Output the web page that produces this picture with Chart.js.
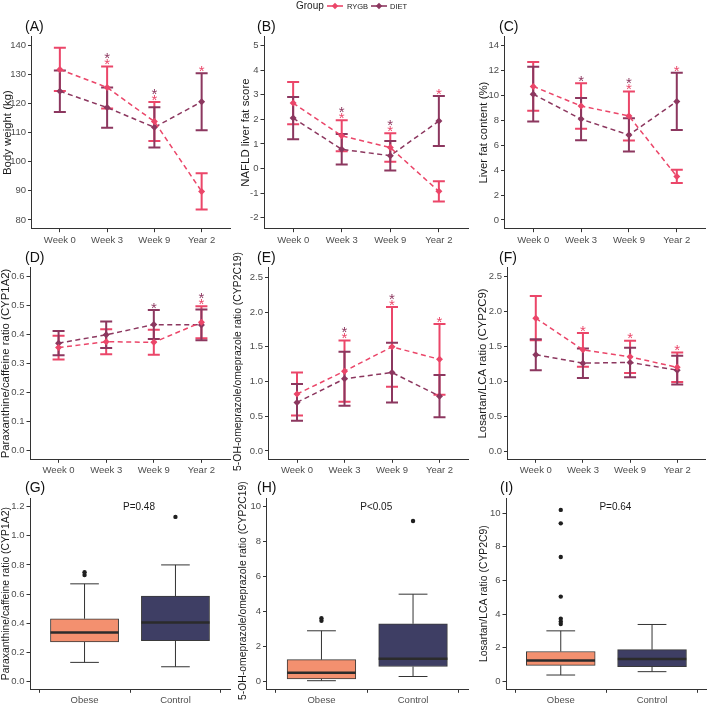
<!DOCTYPE html>
<html><head><meta charset="utf-8">
<script src="https://cdn.jsdelivr.net/npm/chart.js@4.4.1/dist/chart.umd.min.js"></script>
<style>
body{margin:0;background:#fff;}
#wrap{position:relative;width:709px;height:703px;overflow:hidden;background:#fff;font-family:'Liberation Sans',Arial,sans-serif;}
canvas{position:absolute;}
.tag{position:absolute;font-size:14px;line-height:14px;color:#111;white-space:nowrap;}
.lg{position:absolute;white-space:nowrap;color:#222;}
</style></head><body><div id="wrap"></div>
<script>
// ---------------- DATA ----------------
const timepoints = ['Week 0', 'Week 3', 'Week 9', 'Year 2'];
const boxGroups = ['Obese', 'Control'];
const seriesNames = ['RYGB', 'DIET'];

// (A) Body weight (kg)
const weightRYGB = [131.7, 125.5, 113.8, 89.8];
const weightRYGBsd = [7.4, 7.2, 6.7, 6.2];
const weightDIET = [124.2, 118.6, 111.8, 120.6];
const weightDIETsd = [7.1, 6.9, 6.9, 9.8];
const weightStarsRYGB = [0, 1, 1, 1];
const weightStarsDIET = [0, 1, 1, 0];
const weightTicks = [80, 90, 100, 110, 120, 130, 140];

// (B) NAFLD liver fat score
const naflRYGB = [2.66, 1.33, 0.85, -0.93];
const naflRYGBsd = [0.86, 0.63, 0.58, 0.41];
const naflDIET = [2.05, 0.78, 0.52, 1.93];
const naflDIETsd = [0.86, 0.62, 0.60, 1.02];
const naflStarsRYGB = [0, 1, 1, 1];
const naflStarsDIET = [0, 1, 1, 0];
const naflTicks = [-2, -1, 0, 1, 2, 3, 4, 5];

// (C) Liver fat content (%)
const lfcRYGB = [10.7, 9.13, 8.33, 3.49];
const lfcRYGBsd = [1.95, 1.83, 1.97, 0.53];
const lfcDIET = [10.08, 8.08, 6.81, 9.5];
const lfcDIETsd = [2.2, 1.7, 1.33, 2.29];
const lfcStarsRYGB = [0, 0, 1, 1];
const lfcStarsDIET = [0, 1, 1, 0];
const lfcTicks = [0, 2, 4, 6, 8, 10, 12, 14];

// (D) Paraxanthine/caffeine ratio (CYP1A2)
const cyp1a2RYGB = [0.355, 0.375, 0.373, 0.442];
const cyp1a2RYGBsd = [0.041, 0.043, 0.043, 0.055];
const cyp1a2DIET = [0.370, 0.399, 0.434, 0.433];
const cyp1a2DIETsd = [0.042, 0.046, 0.050, 0.053];
const cyp1a2StarsRYGB = [0, 0, 0, 1];
const cyp1a2StarsDIET = [0, 0, 1, 1];
const cyp1a2Ticks = [0, 0.1, 0.2, 0.3, 0.4, 0.5, 0.6];

// (E) 5-OH-omeprazole/omeprazole ratio (CYP2C19)
const cyp2c19RYGB = [0.82, 1.15, 1.50, 1.32];
const cyp2c19RYGBsd = [0.31, 0.44, 0.575, 0.51];
const cyp2c19DIET = [0.70, 1.04, 1.13, 0.79];
const cyp2c19DIETsd = [0.265, 0.39, 0.43, 0.305];
const cyp2c19StarsRYGB = [0, 1, 1, 1];
const cyp2c19StarsDIET = [0, 1, 1, 0];
const cyp2c19Ticks = [0, 0.5, 1.0, 1.5, 2.0, 2.5];

// (F) Losartan/LCA ratio (CYP2C9)
const cyp2c9RYGB = [1.90, 1.45, 1.35, 1.20];
const cyp2c9RYGBsd = [0.315, 0.24, 0.23, 0.21];
const cyp2c9DIET = [1.38, 1.26, 1.27, 1.16];
const cyp2c9DIETsd = [0.22, 0.21, 0.21, 0.205];
const cyp2c9StarsRYGB = [0, 1, 1, 1];
const cyp2c9StarsDIET = [0, 0, 0, 0];
const cyp2c9Ticks = [0, 0.5, 1.0, 1.5, 2.0, 2.5];

// (G-I) boxplots: [lower whisker, Q1, median, Q3, upper whisker]
const boxObeseCYP1A2 = [0.13, 0.27, 0.335, 0.43, 0.67];
const boxControlCYP1A2 = [0.10, 0.28, 0.405, 0.585, 0.80];
const outObeseCYP1A2 = [0.73, 0.75];
const outControlCYP1A2 = [1.13];
const boxTicksCYP1A2 = [0, 0.2, 0.4, 0.6, 0.8, 1.0, 1.2];

const boxObeseCYP2C19 = [0.03, 0.13, 0.49, 1.23, 2.88];
const boxControlCYP2C19 = [0.27, 0.84, 1.29, 3.28, 4.97];
const outObeseCYP2C19 = [3.45, 3.6];
const outControlCYP2C19 = [9.15];
const boxTicksCYP2C19 = [0, 2, 4, 6, 8, 10];

const boxObeseCYP2C9 = [0.37, 0.94, 1.24, 1.77, 3.0];
const boxControlCYP2C9 = [0.57, 0.87, 1.33, 1.88, 3.38];
const outObeseCYP2C9 = [3.41, 3.55, 3.72, 5.04, 7.4, 9.4, 10.2];
const outControlCYP2C9 = [];
const boxTicksCYP2C9 = [0, 2, 4, 6, 8, 10];

const pValues = ['P=0.48', 'P<0.05', 'P=0.64'];

// ---------------- STYLE ----------------
const FONT = "'Liberation Sans', Arial, sans-serif";
const RYGB_COLOR = '#EB4669';
const DIET_COLOR = '#8C375F';
const AXIS_COLOR = '#333333';
const TICK_COLOR = '#4D4D4D';
const TITLE_COLOR = '#1A1A1A';
const OBESE_FILL = '#F3906F';
const CONTROL_FILL = '#3E3E64';
const BOX_EDGE = '#3A3A3A';

const wrap = document.getElementById('wrap');

function makeCanvas(l) {
  const c = document.createElement('canvas');
  c.width = l.cw; c.height = l.ch;
  c.style.left = l.cx + 'px'; c.style.top = l.cy + 'px';
  c.style.width = l.cw + 'px'; c.style.height = l.ch + 'px';
  wrap.appendChild(c);
  return c;
}

function yTitlePlugin(l, text) {
  return {
    id: 'ytitle',
    afterDraw(chart) {
      const {ctx, chartArea} = chart;
      ctx.save();
      ctx.translate(l.tx - l.cx, (chartArea.top + chartArea.bottom) / 2 + (l.tdy || 0));
      ctx.rotate(-Math.PI / 2);
      ctx.font = l.tfs + 'px ' + FONT;
      ctx.fillStyle = TITLE_COLOR;
      ctx.textAlign = 'center'; ctx.textBaseline = 'middle';
      ctx.fillText(text, 0, 0);
      ctx.restore();
    }
  };
}

function baseOptions(l, yTicks, dec, xmin, xmax, xticks, xlabels) {
  const gridOpts = {display: true, drawOnChartArea: false, drawTicks: true, tickLength: 3.5, color: AXIS_COLOR, lineWidth: 1};
  const borderOpts = {display: true, color: AXIS_COLOR, width: 1};
  return {
    responsive: false, animation: false, devicePixelRatio: 1, events: [],
    layout: {padding: {left: 0, top: l.T - l.cy, right: l.cx + l.cw - l.R, bottom: 0}},
    plugins: {legend: {display: false}, tooltip: {enabled: false}},
    scales: {
      x: {
        type: 'linear', min: xmin, max: xmax, offset: false,
        afterFit: sc => { sc.height = l.cy + l.ch - l.B; },
        afterBuildTicks: sc => { sc.ticks = xticks.map(v => ({value: v})); },
        ticks: {callback: v => xlabels[Math.round(v) - 1], color: TICK_COLOR, font: {size: 9.5, family: FONT}, padding: 2, autoSkip: false, maxRotation: 0},
        grid: gridOpts, border: borderOpts
      },
      y: {
        type: 'linear', min: l.ymin, max: l.ymax,
        afterFit: sc => { sc.width = l.L - l.cx; },
        afterBuildTicks: sc => { sc.ticks = yTicks.map(v => ({value: v})); },
        ticks: {callback: v => Number(v).toFixed(dec), color: TICK_COLOR, font: {size: 9.5, family: FONT}, padding: 2},
        grid: gridOpts, border: borderOpts
      }
    }
  };
}

function errPlugin(series) {
  return {
    id: 'errbars',
    beforeDatasetsDraw(chart) {
      const {ctx, scales: {x, y}} = chart;
      ctx.save();
      ctx.lineWidth = 2;
      series.forEach(s => {
        ctx.strokeStyle = s.color;
        s.mean.forEach((m, i) => {
          const px = x.getPixelForValue(i + 1);
          const t = y.getPixelForValue(m + s.sd[i]);
          const b = y.getPixelForValue(m - s.sd[i]);
          ctx.beginPath();
          ctx.moveTo(px, t); ctx.lineTo(px, b);
          ctx.moveTo(px - 6, t); ctx.lineTo(px + 6, t);
          ctx.moveTo(px - 6, b); ctx.lineTo(px + 6, b);
          ctx.stroke();
        });
      });
      ctx.restore();
    },
    afterDatasetsDraw(chart) {
      const {ctx, scales: {x, y}} = chart;
      ctx.save();
      const fs = 15;
      ctx.font = fs + 'px ' + FONT;
      ctx.textAlign = 'center';
      ctx.textBaseline = 'alphabetic';
      for (let i = 0; i < 4; i++) {
        const topVal = Math.max(...series.map(s => s.mean[i] + s.sd[i]));
        let yc = y.getPixelForValue(topVal) - 6;
        const px = x.getPixelForValue(i + 1);
        series.forEach(s => {
          if (s.stars[i]) {
            ctx.fillStyle = s.color;
            ctx.fillText('*', px, yc + 0.58 * fs);
            yc -= 6;
          }
        });
      }
      ctx.restore();
    }
  };
}

function timeChart(l, d) {
  const canvas = makeCanvas(l);
  const series = [
    {mean: d.rygb, sd: d.rygbSd, stars: d.rygbStars, color: RYGB_COLOR},
    {mean: d.diet, sd: d.dietSd, stars: d.dietStars, color: DIET_COLOR}
  ];
  new Chart(canvas, {
    type: 'line',
    data: {datasets: series.map((s, k) => ({
      label: seriesNames[k],
      data: s.mean.map((v, i) => ({x: i + 1, y: v})),
      borderColor: s.color, backgroundColor: s.color,
      borderWidth: 1.5, borderDash: [5, 3.5], tension: 0,
      pointStyle: 'rectRot', pointRadius: 3.5, pointBorderWidth: 0, pointHoverRadius: 3.5
    }))},
    options: baseOptions(l, d.ticks, d.dec, 0.4, 4.6, [1, 2, 3, 4], timepoints),
    plugins: [errPlugin(series), yTitlePlugin(l, d.title)]
  });
}

function boxPlugin(boxes, pText) {
  return {
    id: 'boxparts',
    afterDatasetsDraw(chart) {
      const {ctx, chartArea, scales: {x, y}} = chart;
      ctx.save();
      boxes.forEach((b, i) => {
        const px = x.getPixelForValue(i + 1);
        const half = (x.getPixelForValue(1.375) - x.getPixelForValue(1));
        const cap = half * 0.42;
        ctx.strokeStyle = AXIS_COLOR; ctx.lineWidth = 1;
        ctx.beginPath();
        ctx.moveTo(px, y.getPixelForValue(b[3])); ctx.lineTo(px, y.getPixelForValue(b[4]));
        ctx.moveTo(px, y.getPixelForValue(b[1])); ctx.lineTo(px, y.getPixelForValue(b[0]));
        ctx.moveTo(px - cap, y.getPixelForValue(b[4])); ctx.lineTo(px + cap, y.getPixelForValue(b[4]));
        ctx.moveTo(px - cap, y.getPixelForValue(b[0])); ctx.lineTo(px + cap, y.getPixelForValue(b[0]));
        ctx.stroke();
        ctx.lineWidth = 2.5; ctx.strokeStyle = '#2B2B2B';
        ctx.beginPath();
        ctx.moveTo(px - half, y.getPixelForValue(b[2])); ctx.lineTo(px + half, y.getPixelForValue(b[2]));
        ctx.stroke();
      });
      ctx.fillStyle = '#1A1A1A';
      ctx.font = '10px ' + FONT;
      ctx.textAlign = 'center'; ctx.textBaseline = 'middle';
      ctx.fillText(pText, x.getPixelForValue(1.5) + 9, chartArea.top + 9);
      ctx.restore();
    }
  };
}

function boxChart(l, d) {
  const canvas = makeCanvas(l);
  const boxes = [d.obese, d.control];
  const boxW = (l.R - l.L) / 2.2 * 0.75;
  const outliers = d.obeseOut.map(v => ({x: 1, y: v})).concat(d.controlOut.map(v => ({x: 2, y: v})));
  new Chart(canvas, {
    type: 'bar',
    data: {datasets: [
      {type: 'bar', data: boxes.map((b, i) => ({x: i + 1, y: [b[1], b[3]]})),
       backgroundColor: [OBESE_FILL, CONTROL_FILL], borderColor: BOX_EDGE, borderWidth: 1,
       borderSkipped: false, barThickness: boxW, grouped: false},
      {type: 'line', data: outliers, showLine: false, pointRadius: 2.2, pointHoverRadius: 2.2,
       pointBackgroundColor: '#1F1F1F', pointBorderWidth: 0, backgroundColor: '#1F1F1F'}
    ]},
    options: baseOptions(l, d.ticks, d.dec, 0.4, 2.6, [1, 2], boxGroups),
    plugins: [boxPlugin(boxes, d.p), yTitlePlugin(l, d.title)]
  });
}

// ---------------- LAYOUT ----------------
const C1 = {cx: 0, cw: 235}, C2 = {cx: 228, cw: 245}, C3 = {cx: 470, cw: 239};
const R1 = {cy: 0, ch: 250, T: 36.5, B: 228.7, tfs: 11.4};
const R2 = {cy: 236, ch: 250, T: 267.7, B: 459.3, tfs: 11.4};
const R3 = {cy: 466, ch: 237, T: 498, B: 689.3, tfs: 10.4};

timeChart(Object.assign({}, C1, R1, {L: 31.5, R: 230, tx: 8, ymin: 77, ymax: 143}),
  {rygb: weightRYGB, rygbSd: weightRYGBsd, diet: weightDIET, dietSd: weightDIETsd,
   rygbStars: weightStarsRYGB, dietStars: weightStarsDIET, ticks: weightTicks, dec: 0, title: 'Body weight (kg)'});
timeChart(Object.assign({}, C2, R1, {L: 264, R: 468, tx: 246, ymin: -2.45, ymax: 5.37}),
  {rygb: naflRYGB, rygbSd: naflRYGBsd, diet: naflDIET, dietSd: naflDIETsd,
   rygbStars: naflStarsRYGB, dietStars: naflStarsDIET, ticks: naflTicks, dec: 0, title: 'NAFLD liver fat score'});
timeChart(Object.assign({}, C3, R1, {L: 504.5, R: 708, tx: 484, ymin: -0.7, ymax: 14.7}),
  {rygb: lfcRYGB, rygbSd: lfcRYGBsd, diet: lfcDIET, dietSd: lfcDIETsd,
   rygbStars: lfcStarsRYGB, dietStars: lfcStarsDIET, ticks: lfcTicks, dec: 0, title: 'Liver fat content (%)'});

timeChart(Object.assign({}, C1, R2, {L: 30, R: 230, tx: 6, ymin: -0.03, ymax: 0.63}),
  {rygb: cyp1a2RYGB, rygbSd: cyp1a2RYGBsd, diet: cyp1a2DIET, dietSd: cyp1a2DIETsd,
   rygbStars: cyp1a2StarsRYGB, dietStars: cyp1a2StarsDIET, ticks: cyp1a2Ticks, dec: 1, title: 'Paraxanthine/caffeine ratio (CYP1A2)'});
timeChart(Object.assign({}, C2, R2, {L: 268.5, R: 468, tx: 238, tfs: 10.4, tdy: -2, ymin: -0.12, ymax: 2.64}),
  {rygb: cyp2c19RYGB, rygbSd: cyp2c19RYGBsd, diet: cyp2c19DIET, dietSd: cyp2c19DIETsd,
   rygbStars: cyp2c19StarsRYGB, dietStars: cyp2c19StarsDIET, ticks: cyp2c19Ticks, dec: 1, title: '5-OH-omeprazole/omeprazole ratio (CYP2C19)'});
timeChart(Object.assign({}, C3, R2, {L: 507.5, R: 708, tx: 483, ymin: -0.11, ymax: 2.62}),
  {rygb: cyp2c9RYGB, rygbSd: cyp2c9RYGBsd, diet: cyp2c9DIET, dietSd: cyp2c9DIETsd,
   rygbStars: cyp2c9StarsRYGB, dietStars: cyp2c9StarsDIET, ticks: cyp2c9Ticks, dec: 1, title: 'Losartan/LCA ratio (CYP2C9)'});

boxChart(Object.assign({}, C1, R3, {L: 30, R: 230, tx: 6, ymin: -0.055, ymax: 1.26}),
  {obese: boxObeseCYP1A2, control: boxControlCYP1A2, obeseOut: outObeseCYP1A2, controlOut: outControlCYP1A2,
   ticks: boxTicksCYP1A2, dec: 1, title: 'Paraxanthine/caffeine ratio (CYP1A2)', p: pValues[0]});
boxChart(Object.assign({}, C2, R3, {L: 266.5, R: 468, tx: 243, tdy: -3, ymin: -0.46, ymax: 10.46}),
  {obese: boxObeseCYP2C19, control: boxControlCYP2C19, obeseOut: outObeseCYP2C19, controlOut: outControlCYP2C19,
   ticks: boxTicksCYP2C19, dec: 0, title: '5-OH-omeprazole/omeprazole ratio (CYP2C19)', p: pValues[1]});
boxChart(Object.assign({}, C3, R3, {L: 506, R: 708, tx: 484, ymin: -0.48, ymax: 10.91}),
  {obese: boxObeseCYP2C9, control: boxControlCYP2C9, obeseOut: outObeseCYP2C9, controlOut: outControlCYP2C9,
   ticks: boxTicksCYP2C9, dec: 0, title: 'Losartan/LCA ratio (CYP2C9)', p: pValues[2]});

// ---------------- PANEL TAGS ----------------
const tags = [['(A)', 25, 19], ['(B)', 257, 19], ['(C)', 499, 19],
              ['(D)', 25, 250], ['(E)', 257, 250], ['(F)', 499, 250],
              ['(G)', 25, 479.5], ['(H)', 257, 479.5], ['(I)', 500, 479.5]];
tags.forEach(([t, x, y]) => {
  const d = document.createElement('div');
  d.className = 'tag'; d.textContent = t;
  d.style.left = x + 'px'; d.style.top = y + 'px';
  wrap.appendChild(d);
});

// ---------------- LEGEND ----------------
function lgText(txt, x, size) {
  const d = document.createElement('div');
  d.className = 'lg'; d.textContent = txt;
  d.style.left = x + 'px'; d.style.fontSize = size + 'px';
  d.style.top = (6 - size * 0.6) + 'px'; d.style.lineHeight = (size * 1.2) + 'px';
  wrap.appendChild(d);
}
function lgKey(x, color) {
  const ns = 'http://www.w3.org/2000/svg';
  const s = document.createElementNS(ns, 'svg');
  s.setAttribute('width', 16); s.setAttribute('height', 10);
  s.style.position = 'absolute'; s.style.left = x + 'px'; s.style.top = '1px';
  const ln = document.createElementNS(ns, 'line');
  ln.setAttribute('x1', 0); ln.setAttribute('x2', 16); ln.setAttribute('y1', 5); ln.setAttribute('y2', 5);
  ln.setAttribute('stroke', color); ln.setAttribute('stroke-width', 1.6);
  const dm = document.createElementNS(ns, 'polygon');
  dm.setAttribute('points', '8,1.8 11.2,5 8,8.2 4.8,5');
  dm.setAttribute('fill', color);
  s.appendChild(ln); s.appendChild(dm);
  wrap.appendChild(s);
}
lgText('Group', 296, 10);
lgKey(327, RYGB_COLOR);
lgText(seriesNames[0], 347, 7.5);
lgKey(371, DIET_COLOR);
lgText(seriesNames[1], 390, 7.5);
</script></body></html>
